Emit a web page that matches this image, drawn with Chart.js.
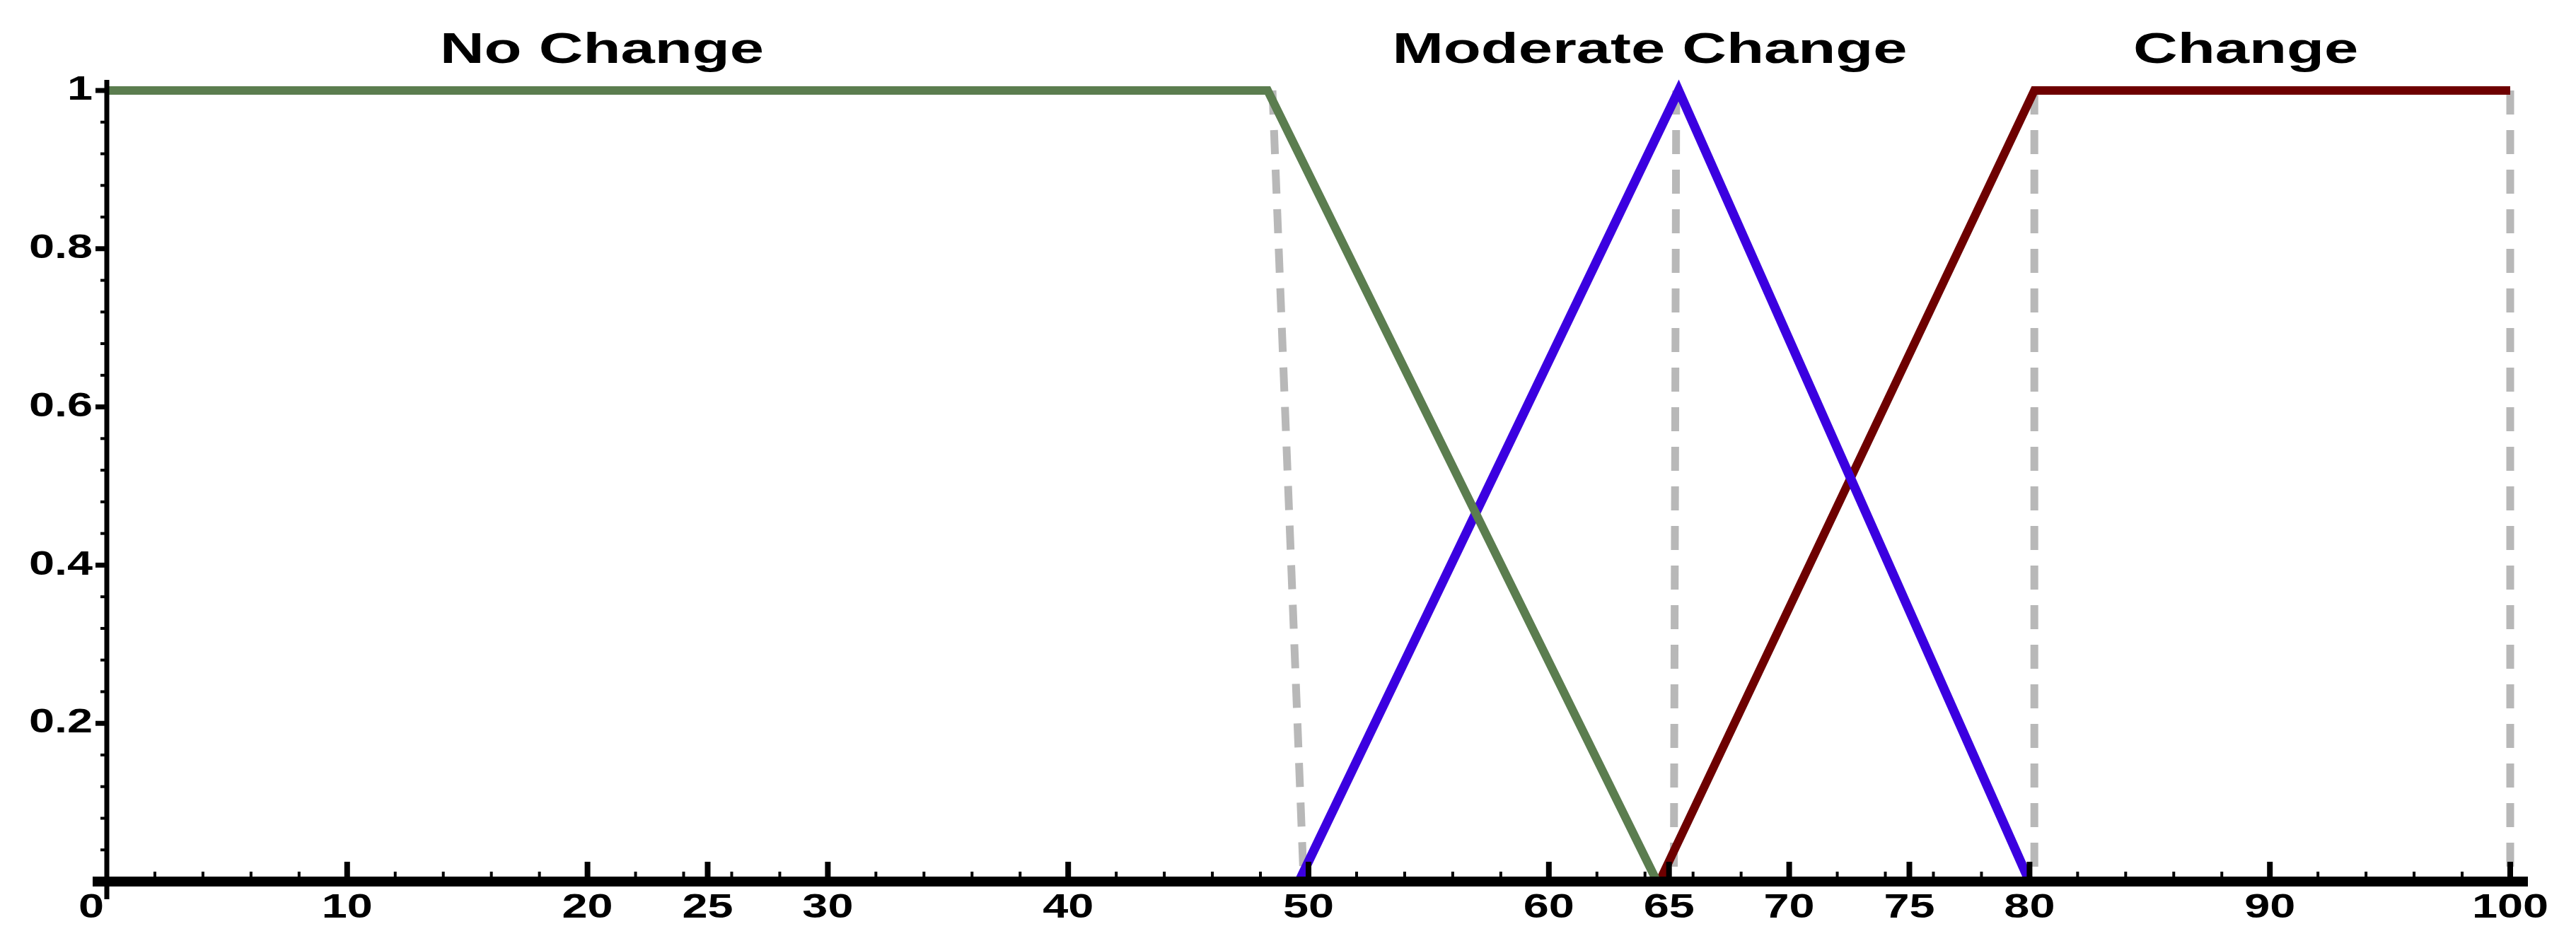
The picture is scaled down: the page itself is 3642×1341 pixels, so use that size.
<!DOCTYPE html>
<html><head><meta charset="utf-8">
<script src="https://cdn.jsdelivr.net/npm/chart.js@4"></script>
<style>html,body{margin:0;padding:0;background:#fff}#c{display:block}</style>
</head><body>
<canvas id="c" width="3642" height="1341"></canvas>
<script>
const xTickValues = [0,10,20,25,30,40,50,60,65,70,75,80,90,100];
const yTickValues = [0,0.2,0.4,0.6,0.8,1];
const noChangeX = [0,48.3,64.5];
const noChangeY = [1,1,0];
const moderateX = [49.6,65.4,80];
const moderateY = [0,1,0];
const changeX = [64.6,80.2,100];
const changeY = [0,1,1];
const guideLines = [[48.5,49.8],[65.3,65.2],[80.2,80.2],[100,100]];
const labelNames = ['No Change','Moderate Change','Change'];
const labelX = [20.6,64.2,89];

const pts = (xs,ys)=>xs.map((x,i)=>({x,y:ys[i]}));
const datasets = [];
guideLines.forEach(g=>datasets.push({data:[{x:g[0],y:1},{x:g[1],y:0}],borderColor:'#b8b8b8',borderWidth:11,borderDash:[34,22],pointRadius:0,order:5}));
datasets.push({label:'No Change',data:pts(noChangeX,noChangeY),borderColor:'#5b7d4f',borderWidth:12,pointRadius:0,order:1});
datasets.push({label:'Moderate Change',data:pts(moderateX,moderateY),borderColor:'#3b00e0',borderWidth:13,pointRadius:0,order:1});
datasets.push({label:'Change',data:pts(changeX,changeY),borderColor:'#6e0000',borderWidth:12,pointRadius:0,order:1});

function wideText(c,t,x,y,sx){c.save();c.translate(x,y);c.scale(sx,1);c.fillText(t,0,0);c.restore();}

const deco = {id:'deco',
 afterDraw(ch){const c=ch.ctx,x=ch.scales.x,y=ch.scales.y;c.save();
  c.fillStyle='#000';c.strokeStyle='#000';
  c.lineWidth=14;c.beginPath();c.moveTo(x.getPixelForValue(0)-20,y.getPixelForValue(0));c.lineTo(x.getPixelForValue(100)+25,y.getPixelForValue(0));c.stroke();
  c.lineWidth=7;c.beginPath();c.moveTo(x.getPixelForValue(0),y.getPixelForValue(1)-15);c.lineTo(x.getPixelForValue(0),y.getPixelForValue(0)+25);c.stroke();
  c.lineWidth=4;
  for(let v=0;v<=100;v+=2){const px=x.getPixelForValue(v);c.beginPath();c.moveTo(px,y.getPixelForValue(0));c.lineTo(px,y.getPixelForValue(0)-14);c.stroke();}
  c.lineWidth=8;
  xTickValues.forEach(v=>{if(!v)return;const px=x.getPixelForValue(v);c.beginPath();c.moveTo(px,y.getPixelForValue(0));c.lineTo(px,y.getPixelForValue(0)-28);c.stroke();});
  c.lineWidth=4;
  for(let v=0;v<=1.0001;v+=0.04){const py=y.getPixelForValue(v);c.beginPath();c.moveTo(x.getPixelForValue(0)-9,py);c.lineTo(x.getPixelForValue(0),py);c.stroke();}
  c.lineWidth=7;
  yTickValues.forEach(v=>{const py=y.getPixelForValue(v);c.beginPath();c.moveTo(x.getPixelForValue(0)-16,py);c.lineTo(x.getPixelForValue(0),py);c.stroke();});
  c.font='bold 48px "Liberation Sans", Arial';c.textAlign='center';c.textBaseline='top';
  xTickValues.forEach(v=>{wideText(c,String(v),x.getPixelForValue(v)+(v===0?-22:0),y.getPixelForValue(0)+14,1.35);});
  c.textAlign='right';c.textBaseline='middle';
  yTickValues.forEach(v=>{if(!v)return;wideText(c,String(v),x.getPixelForValue(0)-20,y.getPixelForValue(v),1.35);});
  c.font='bold 62px "Liberation Sans", Arial';c.textAlign='center';c.textBaseline='middle';
  labelNames.forEach((n,i)=>wideText(c,n,x.getPixelForValue(labelX[i]),72,1.4));
  c.restore();}};

new Chart(document.getElementById('c'),{type:'line',data:{datasets},
 options:{responsive:false,animation:false,devicePixelRatio:1,
  layout:{padding:{top:128,right:93,left:0,bottom:0}},
  plugins:{legend:{display:false},tooltip:{enabled:false}},
  elements:{line:{tension:0,borderCapStyle:'butt'}},
  datasets:{line:{clip:false}},
  scales:{
   x:{type:'linear',min:0,max:100,grid:{display:false},border:{display:false},ticks:{display:false},afterFit(s){s.height=94;}},
   y:{type:'linear',min:0,max:1,grid:{display:false},border:{display:false},ticks:{display:false},afterFit(s){s.width=151;}}
  }},plugins:[deco]});
</script>
</body></html>
